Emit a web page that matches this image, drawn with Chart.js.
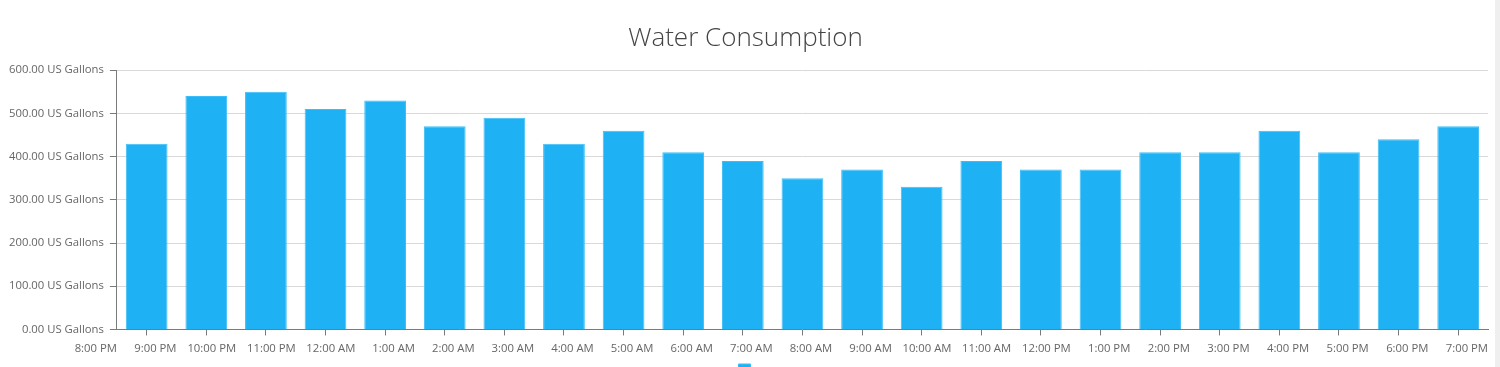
<!DOCTYPE html>
<html>
<head>
<meta charset="utf-8">
<title>Water Consumption</title>
<script src="https://cdn.jsdelivr.net/npm/chart.js@4"></script>
<style>
  html, body { margin: 0; padding: 0; background: #fff; overflow: hidden; }
  #frame { width: 1495px; height: 367px; border-right: 5px solid #efefef; overflow: hidden; }
  #wrap { width: 1495px; height: 378px; position: relative; }
</style>
</head>
<body>
<div id="frame"><div id="wrap"><canvas id="waterChart"></canvas></div></div>
<script>
// hour boundaries shown on the axis
const hourLabels = ['8:00 PM', '9:00 PM', '10:00 PM', '11:00 PM', '12:00 AM', '1:00 AM', '2:00 AM', '3:00 AM',
  '4:00 AM', '5:00 AM', '6:00 AM', '7:00 AM', '8:00 AM', '9:00 AM', '10:00 AM', '11:00 AM',
  '12:00 PM', '1:00 PM', '2:00 PM', '3:00 PM', '4:00 PM', '5:00 PM', '6:00 PM', '7:00 PM'];
// one bar per hour slot (between two boundaries)
const slotLabels = hourLabels.slice(0, -1);
const gallons = [430, 540, 550, 510, 530, 470, 490, 430, 460, 410, 390, 350, 370, 330,
  390, 370, 370, 410, 410, 460, 410, 440, 470];
const yTicks = [0, 100, 200, 300, 400, 500, 600];

const fontFamily = "'Open Sans', 'Noto Sans', sans-serif";

document.addEventListener("DOMContentLoaded", function() {
    const ctx = document.getElementById('waterChart').getContext('2d');
    new Chart(ctx, {
        type: 'bar',
        data: {
            labels: slotLabels,
            datasets: [{
                label: '',
                data: gallons,
                xAxisID: 'xb',
                backgroundColor: '#1eb2f5',
                borderColor: '#3dbdf7',
                borderWidth: 1,
                barPercentage: 0.7,
                categoryPercentage: 1
            }]
        },
        options: {
            responsive: true,
            maintainAspectRatio: false,
            animation: false,
            layout: { padding: { left: 3, right: 7, top: 0, bottom: 0 } },
            plugins: {
                title: {
                    display: true,
                    text: 'Water Consumption',
                    color: '#444',
                    font: { family: fontFamily, size: 26, weight: '300' },
                    padding: { top: 23, bottom: 16 }
                },
                legend: {
                    position: 'bottom',
                    labels: { boxWidth: 12, boxHeight: 4, padding: 1, font: { size: 4 } }
                },
                tooltip: { enabled: false }
            },
            scales: {
                xb: {
                    type: 'category',
                    labels: slotLabels,
                    offset: true,
                    display: false
                },
                x: {
                    type: 'category',
                    labels: hourLabels,
                    offset: false,
                    border: { color: '#7a7a7a' },
                    grid: { drawOnChartArea: false, tickLength: 6, color: '#7a7a7a' },
                    ticks: {
                        color: '#666',
                        font: { family: fontFamily, size: 11.3 },
                        align: 'end',
                        maxRotation: 0,
                        autoSkip: false,
                        padding: 7
                    }
                },
                y: {
                    min: 0,
                    max: 600,
                    afterBuildTicks: function(axis) {
                        axis.ticks = yTicks.map(v => ({ value: v }));
                    },
                    border: { color: '#7a7a7a' },
                    grid: { color: '#d9d9d9', tickColor: '#7a7a7a', tickLength: 7 },
                    ticks: {
                        color: '#666',
                        font: { family: fontFamily, size: 11.3 },
                        padding: 6,
                        callback: v => v.toFixed(2) + ' US Gallons'
                    }
                }
            }
        }
    });
});
</script>
</body>
</html>
